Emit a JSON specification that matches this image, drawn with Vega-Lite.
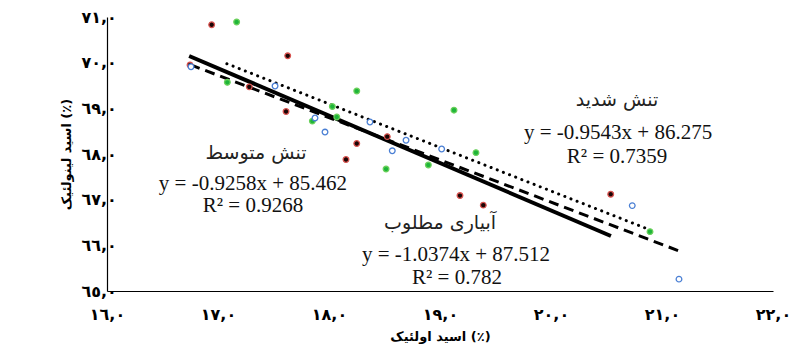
{
  "$schema": "https://vega.github.io/schema/vega-lite/v6.json",
  "width": 666,
  "height": 274,
  "autosize": {"type": "none"},
  "padding": {"left": 107, "top": 17, "right": 24, "bottom": 60},
  "background": "white",
  "config": {"view": {"stroke": null}},
  "datasets": {
    "points": [
      {"series": "آبیاری مطلوب", "x": 16.943, "y": 70.83},
      {"series": "آبیاری مطلوب", "x": 16.748, "y": 69.95},
      {"series": "آبیاری مطلوب", "x": 17.628, "y": 70.15},
      {"series": "آبیاری مطلوب", "x": 17.282, "y": 69.47},
      {"series": "آبیاری مطلوب", "x": 17.613, "y": 68.93},
      {"series": "آبیاری مطلوب", "x": 18.25, "y": 68.23},
      {"series": "آبیاری مطلوب", "x": 18.153, "y": 67.88},
      {"series": "آبیاری مطلوب", "x": 18.525, "y": 68.38},
      {"series": "آبیاری مطلوب", "x": 19.18, "y": 67.09},
      {"series": "آبیاری مطلوب", "x": 19.39, "y": 66.88},
      {"series": "آبیاری مطلوب", "x": 20.538, "y": 67.12},
      {"series": "تنش شدید", "x": 17.168, "y": 70.89},
      {"series": "تنش شدید", "x": 17.084, "y": 69.57},
      {"series": "تنش شدید", "x": 18.03, "y": 69.04},
      {"series": "تنش شدید", "x": 18.07, "y": 68.81},
      {"series": "تنش شدید", "x": 17.85, "y": 68.72},
      {"series": "تنش شدید", "x": 18.25, "y": 69.38},
      {"series": "تنش شدید", "x": 18.514, "y": 67.67},
      {"series": "تنش شدید", "x": 19.126, "y": 68.96},
      {"series": "تنش شدید", "x": 18.895, "y": 67.76},
      {"series": "تنش شدید", "x": 19.324, "y": 68.03},
      {"series": "تنش شدید", "x": 20.892, "y": 66.3},
      {"series": "تنش متوسط", "x": 16.757, "y": 69.91},
      {"series": "تنش متوسط", "x": 17.514, "y": 69.49},
      {"series": "تنش متوسط", "x": 17.874, "y": 68.79},
      {"series": "تنش متوسط", "x": 17.964, "y": 68.48},
      {"series": "تنش متوسط", "x": 18.369, "y": 68.7},
      {"series": "تنش متوسط", "x": 18.694, "y": 68.3},
      {"series": "تنش متوسط", "x": 18.57, "y": 68.07},
      {"series": "تنش متوسط", "x": 19.015, "y": 68.11},
      {"series": "تنش متوسط", "x": 20.732, "y": 66.87},
      {"series": "تنش متوسط", "x": 21.153, "y": 65.26}
    ],
    "trends": [
      {"series": "آبیاری مطلوب", "x": 16.74, "y": 70.146},
      {"series": "آبیاری مطلوب", "x": 20.54, "y": 66.204},
      {"series": "تنش متوسط", "x": 16.75, "y": 69.955},
      {"series": "تنش متوسط", "x": 21.15, "y": 65.881},
      {"series": "تنش شدید", "x": 17.08, "y": 69.976},
      {"series": "تنش شدید", "x": 20.89, "y": 66.34}
    ],
    "labels": [
      {"kind": "name", "x": 20.595, "y": 69.18, "text": "تنش شدید"},
      {"kind": "eq", "x": 20.604, "y": 68.46, "text": "y = -0.9543x + 86.275"},
      {"kind": "eq", "x": 20.595, "y": 67.93, "text": "R² = 0.7359"},
      {"kind": "name", "x": 17.342, "y": 68.02, "text": "تنش متوسط"},
      {"kind": "eq", "x": 17.315, "y": 67.34, "text": "y = -0.9258x + 85.462"},
      {"kind": "eq", "x": 17.315, "y": 66.86, "text": "R² = 0.9268"},
      {"kind": "name", "x": 19.0, "y": 66.49, "text": "آبیاری مطلوب"},
      {"kind": "eq", "x": 19.144, "y": 65.79, "text": "y = -1.0374x + 87.512"},
      {"kind": "eq", "x": 19.153, "y": 65.28, "text": "R² = 0.782"}
    ]
  },
  "encoding": {
    "x": {
      "field": "x", "type": "quantitative",
      "scale": {"domain": [16, 22], "nice": false, "zero": false},
      "axis": {
        "title": "اسید اولئیک (٪)",
        "values": [16, 17, 18, 19, 20, 21, 22],
        "labelExpr": "datum.value == 16 ? '١٦,٠' : datum.value == 17 ? '١٧,٠' : datum.value == 18 ? '١٨,٠' : datum.value == 19 ? '١٩,٠' : datum.value == 20 ? '٢٠,٠' : datum.value == 21 ? '٢١,٠' : '٢٢,٠'",
        "grid": false, "ticks": false, "domainColor": "black", "domainWidth": 1.2,
        "labelFont": "DejaVu Sans", "labelFontWeight": "bold", "labelFontSize": 16, "labelColor": "black",
        "labelPadding": 15, "labelDx": 4, "labelFlush": false, "labelOverlap": false,
        "titleFont": "DejaVu Sans", "titleFontWeight": "bold", "titleFontSize": 13, "titleColor": "black",
        "titlePadding": 8
      }
    },
    "y": {
      "field": "y", "type": "quantitative",
      "scale": {"domain": [65, 71], "nice": false, "zero": false},
      "axis": {
        "title": "اسید لینولئیک (٪)",
        "values": [65, 66, 67, 68, 69, 70, 71],
        "labelExpr": "datum.value == 65 ? '٦٥,٠' : datum.value == 66 ? '٦٦,٠' : datum.value == 67 ? '٦٧,٠' : datum.value == 68 ? '٦٨,٠' : datum.value == 69 ? '٦٩,٠' : datum.value == 70 ? '٧٠,٠' : '٧١,٠'",
        "grid": false, "ticks": false, "domainColor": "black", "domainWidth": 1.2,
        "labelFont": "DejaVu Sans", "labelFontWeight": "bold", "labelFontSize": 16, "labelColor": "black",
        "labelPadding": 26, "labelAlign": "left", "labelDy": 3, "labelOverlap": false,
        "titleFont": "DejaVu Sans", "titleFontWeight": "bold", "titleFontSize": 13, "titleColor": "black",
        "titlePadding": 8
      }
    }
  },
  "layer": [
    {
      "data": {"name": "trends"},
      "transform": [{"filter": "datum.series == 'آبیاری مطلوب'"}],
      "mark": {"type": "line", "color": "black", "strokeWidth": 4}
    },
    {
      "data": {"name": "trends"},
      "transform": [{"filter": "datum.series == 'تنش متوسط'"}],
      "mark": {"type": "line", "color": "black", "strokeWidth": 3, "strokeDash": [10, 6]}
    },
    {
      "data": {"name": "trends"},
      "transform": [{"filter": "datum.series == 'تنش شدید'"}],
      "mark": {"type": "line", "color": "black", "strokeWidth": 3, "strokeDash": [0.1, 6.5], "strokeCap": "round"}
    },
    {
      "data": {"name": "points"},
      "mark": {"type": "point", "shape": "circle", "filled": false, "size": 32, "strokeWidth": 1.3, "opacity": 1},
      "encoding": {
        "fill": {
          "field": "series", "type": "nominal", "legend": null,
          "scale": {"domain": ["آبیاری مطلوب", "تنش متوسط", "تنش شدید"], "range": ["#1a0505", "#ffffff", "#1fb53a"]}
        },
        "stroke": {
          "field": "series", "type": "nominal", "legend": null,
          "scale": {"domain": ["آبیاری مطلوب", "تنش متوسط", "تنش شدید"], "range": ["#d9534f", "#4a7fd4", "#6ad05a"]}
        }
      }
    },
    {
      "data": {"name": "labels"},
      "transform": [{"filter": "datum.kind == 'name'"}],
      "mark": {"type": "text", "font": "DejaVu Sans", "fontSize": 19, "color": "#222", "align": "center", "baseline": "middle"},
      "encoding": {"text": {"field": "text"}}
    },
    {
      "data": {"name": "labels"},
      "transform": [{"filter": "datum.kind == 'eq'"}],
      "mark": {"type": "text", "font": "Liberation Serif", "fontSize": 21, "color": "#111", "align": "center", "baseline": "middle"},
      "encoding": {"text": {"field": "text"}}
    }
  ]
}
